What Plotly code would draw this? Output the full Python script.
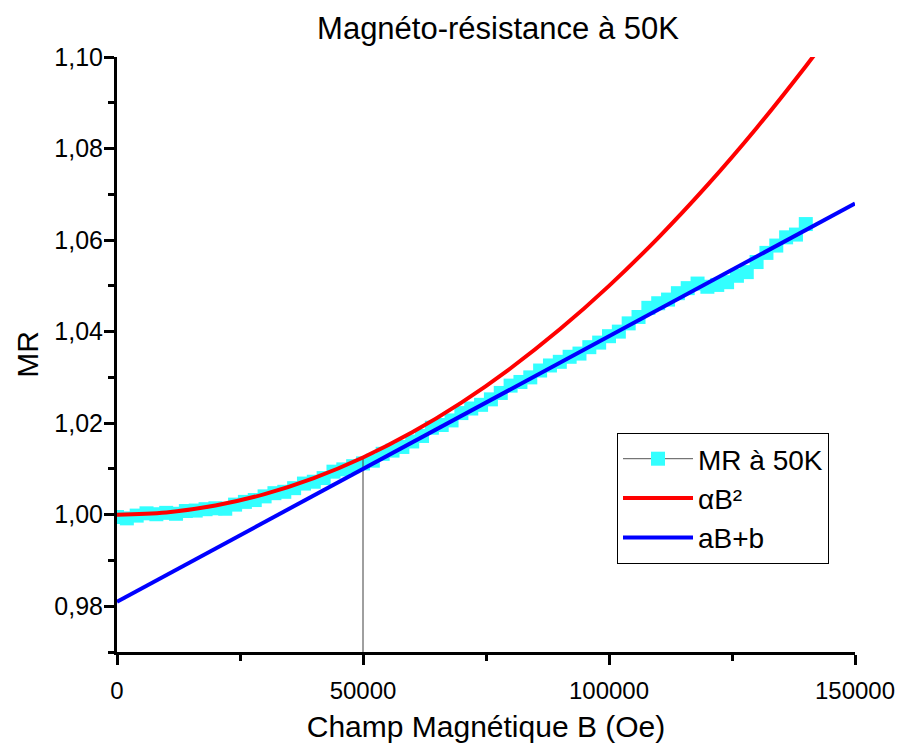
import plotly.graph_objects as go

# ---- data ----
field_B = [0, 2000, 4000, 6000, 8000, 10000, 12000, 14000, 16000, 18000,
           20000, 22000, 24000, 26000, 28000, 30000, 32000, 34000, 36000, 38000,
           40000, 42000, 44000, 46000, 48000, 50000, 52000, 54000, 56000, 58000,
           60000, 62000, 64000, 66000, 68000, 70000, 72000, 74000, 76000, 78000,
           80000, 82000, 84000, 86000, 88000, 90000, 92000, 94000, 96000, 98000,
           100000, 102000, 104000, 106000, 108000, 110000, 112000, 114000, 116000, 118000,
           120000, 122000, 124000, 126000, 128000, 130000, 132000, 134000, 136000, 138000,
           140000]
mr_50K = [0.9995, 0.9992, 0.9998, 1.0003, 1.0001, 1.0004, 1.0002, 1.0008, 1.0009, 1.0012,
          1.0014, 1.0013, 1.0022, 1.0028, 1.0032, 1.0040, 1.0047, 1.0050, 1.0058, 1.0068,
          1.0072, 1.0080, 1.0094, 1.0099, 1.0106, 1.0112, 1.0118, 1.0133, 1.0140, 1.0148,
          1.0160, 1.0172, 1.0190, 1.0196, 1.0206, 1.0222, 1.0232, 1.0240, 1.0252, 1.0266,
          1.0282, 1.0290, 1.0300, 1.0315, 1.0326, 1.0334, 1.0345, 1.0352, 1.0366, 1.0376,
          1.0390, 1.0400, 1.0418, 1.0432, 1.0452, 1.0462, 1.0470, 1.0484, 1.0495, 1.0505,
          1.0498, 1.0502, 1.0508, 1.0522, 1.0530, 1.0552, 1.0572, 1.0588, 1.0606, 1.0612,
          1.0635]

# quadratic fit curve (alpha B^2)
quad_B = [0, 10000, 20000, 30000, 40000, 50000, 60000, 70000, 80000, 90000,
          100000, 110000, 120000, 130000, 140000, 145000]
quad_MR = [1.0000, 1.0005, 1.0020, 1.0045, 1.0080, 1.0125, 1.0180, 1.0245, 1.0320, 1.0405,
           1.0500, 1.0605, 1.0720, 1.0845, 1.0980, 1.1051]

# linear fit (aB+b)
lin_B = [0, 150000]
lin_MR = [0.981, 1.068]

# drop line at B = 50000
drop_B = [50000, 50000]
drop_MR = [0.97, 1.0125]

title_text = "Magnéto-résistance à 50K"
x_title = "Champ Magnétique B (Oe)"
y_title = "MR"
names = ["MR à 50K", "αB²", "aB+b"]

FONT = "Liberation Sans, Arial, sans-serif"

fig = go.Figure()
fig.add_trace(go.Scatter(
    x=field_B, y=mr_50K, mode="lines+markers", name=names[0],
    line=dict(color="#555555", width=1),
    marker=dict(symbol="square", size=14, color="#33FFFF", line=dict(width=0)),
))
fig.add_trace(go.Scatter(
    x=drop_B, y=drop_MR, mode="lines", showlegend=False,
    line=dict(color="#404040", width=1), hoverinfo="skip",
))
fig.add_trace(go.Scatter(
    x=quad_B, y=quad_MR, mode="lines", name=names[1], line_shape="spline",
    line=dict(color="#FF0000", width=4),
))
fig.add_trace(go.Scatter(
    x=lin_B, y=lin_MR, mode="lines", name=names[2],
    line=dict(color="#0000FF", width=4),
))

fig.update_layout(
    width=897, height=745,
    margin=dict(l=117, r=42, t=57, b=93, autoexpand=False),
    paper_bgcolor="white", plot_bgcolor="white",
    separators=", ",
    font=dict(family=FONT, color="black", size=25),
    title=dict(text=title_text, x=498 / 897, xanchor="center", xref="container",
               y=1 - 28 / 745, yref="container", yanchor="middle",
               font=dict(size=31, family=FONT)),
    legend=dict(x=(617 - 117) / 738, y=(652 - 433) / 595, xanchor="left", yanchor="top",
                bgcolor="white", bordercolor="black", borderwidth=1,
                font=dict(size=28, family=FONT), itemwidth=70,
                tracegroupgap=0),
    showlegend=True,
)

fig.update_xaxes(
    range=[0, 150000], tickmode="linear", tick0=0, dtick=50000,
    tickformat="d", showgrid=False, zeroline=False, automargin=False,
    showline=True, linecolor="black", linewidth=3,
    ticks="outside", ticklen=10, tickwidth=3, tickcolor="black",
    tickfont=dict(size=24, family=FONT), ticklabelstandoff=5,
    minor=dict(dtick=25000, tick0=0, ticks="outside", ticklen=6, tickwidth=3,
               tickcolor="black", showgrid=False),
    title=dict(text=x_title, font=dict(size=30, family=FONT), standoff=14),
)
fig.update_yaxes(
    range=[0.97, 1.10], tickmode="linear", tick0=0.98, dtick=0.02,
    tickformat=".2f", showgrid=False, zeroline=False, automargin=False,
    showline=True, linecolor="black", linewidth=3,
    ticks="outside", ticklen=10, tickwidth=3, tickcolor="black",
    tickfont=dict(size=25, family=FONT), ticklabelstandoff=-4,
    minor=dict(dtick=0.01, tick0=0.97, ticks="outside", ticklen=6, tickwidth=3,
               tickcolor="black", showgrid=False),
    title=dict(text=y_title, font=dict(size=30, family=FONT), standoff=7),
)

fig.write_html("out.html", config={"displayModeBar": False},
               post_script="document.body.style.margin='0';document.body.style.overflow='hidden';")
